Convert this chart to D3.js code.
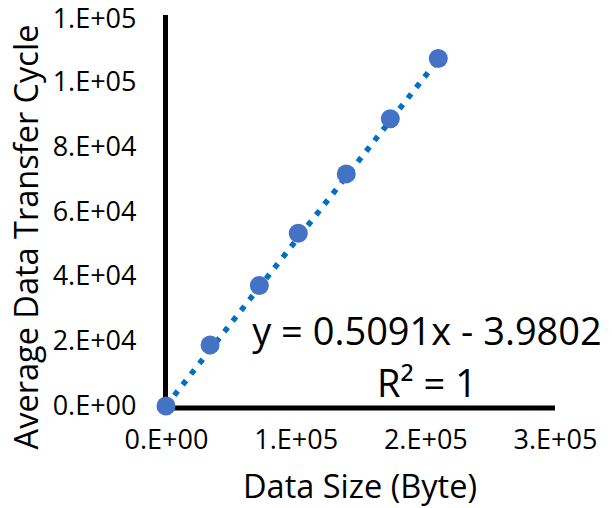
<!DOCTYPE html>
<html>
<head>
<meta charset="utf-8">
<script src="https://cdn.jsdelivr.net/npm/d3@7"></script>
<style>
  body { margin: 0; background: #fff; }
  text { font-family: "Open Sans", sans-serif; fill: #000; }
</style>
</head>
<body>
<svg id="chart"></svg>
<script>
// data
const dataSize = [0, 34000, 72000, 102000, 139000, 173000, 210000];
const transferCycle = [0, 18800, 37200, 53300, 71600, 88600, 107200];
const xTicks = [0, 100000, 200000, 300000];
const yTicks = [0, 20000, 40000, 60000, 80000, 100000, 120000];
const trendSlope = 0.5091;
const trendIntercept = -3.9802;
const equationLabel = 'y = 0.5091x - 3.9802';

const width = 612, height = 508;
const svg = d3.select('#chart').attr('width', width).attr('height', height);

const x = d3.scaleLinear().domain([0, 300000]).range([166, 555]);
const y = d3.scaleLinear().domain([0, 120000]).range([406, 17]);

// excel style "0.E+00"
function sci(v) {
  if (v === 0) return '0.E+00';
  const e = Math.floor(Math.log10(v));
  let m = Math.round(v / Math.pow(10, e));
  return m + '.E+' + String(e).padStart(2, '0');
}

// axes (no tick marks, thick black lines)
const xAxis = d3.axisBottom(x).tickValues(xTicks).tickFormat(sci).tickSize(0).tickPadding(22);
const yAxis = d3.axisLeft(y).tickValues(yTicks).tickFormat(sci).tickSize(0).tickPadding(29);

const gx = svg.append('g').attr('transform', 'translate(0,408)').call(xAxis);
const gy = svg.append('g').attr('transform', 'translate(165.5,0)').call(yAxis);
[gx, gy].forEach(g => {
  g.select('.domain').remove();
  g.selectAll('text').style('font-size', '27px').attr('fill', '#000');
});
// keep the top label inside the frame
gy.selectAll('.tick').filter(d => d === 120000).select('text').attr('dy', '0.4em');

svg.append('line')
  .attr('x1', 165.5).attr('x2', 165.5).attr('y1', 15).attr('y2', 410.5)
  .attr('stroke', '#000').attr('stroke-width', 5);
svg.append('line')
  .attr('x1', 163).attr('x2', 555).attr('y1', 408).attr('y2', 408)
  .attr('stroke', '#000').attr('stroke-width', 5);

// trendline
const xMin = d3.min(dataSize), xMax = d3.max(dataSize);
svg.append('line')
  .attr('x1', x(xMin)).attr('y1', y(trendSlope * xMin + trendIntercept))
  .attr('x2', x(xMax)).attr('y2', y(trendSlope * xMax + trendIntercept))
  .attr('stroke', '#0070C0').attr('stroke-width', 5.5)
  .attr('stroke-dasharray', '5.5,8');

// points
svg.selectAll('.pt')
  .data(dataSize.map((d, i) => [d, transferCycle[i]]))
  .join('circle')
  .attr('class', 'pt')
  .attr('cx', d => x(d[0]))
  .attr('cy', d => y(d[1]))
  .attr('r', 9.5)
  .attr('fill', '#4472C4');

// equation labels
svg.append('text')
  .attr('x', 427).attr('y', 345)
  .attr('text-anchor', 'middle')
  .style('font-size', '38px')
  .text(equationLabel);
const r2 = svg.append('text')
  .attr('x', 427).attr('y', 397)
  .attr('text-anchor', 'middle')
  .style('font-size', '38px');
r2.append('tspan').text('R');
r2.append('tspan').text('²');
r2.append('tspan').text(' = 1');

// axis titles
svg.append('text')
  .attr('x', 360).attr('y', 498)
  .attr('text-anchor', 'middle')
  .style('font-size', '32.5px')
  .text('Data Size (Byte)');
svg.append('text')
  .attr('transform', 'translate(38,237) rotate(-90)')
  .attr('text-anchor', 'middle')
  .style('font-size', '32.5px')
  .text('Average Data Transfer Cycle');
</script>
</body>
</html>
